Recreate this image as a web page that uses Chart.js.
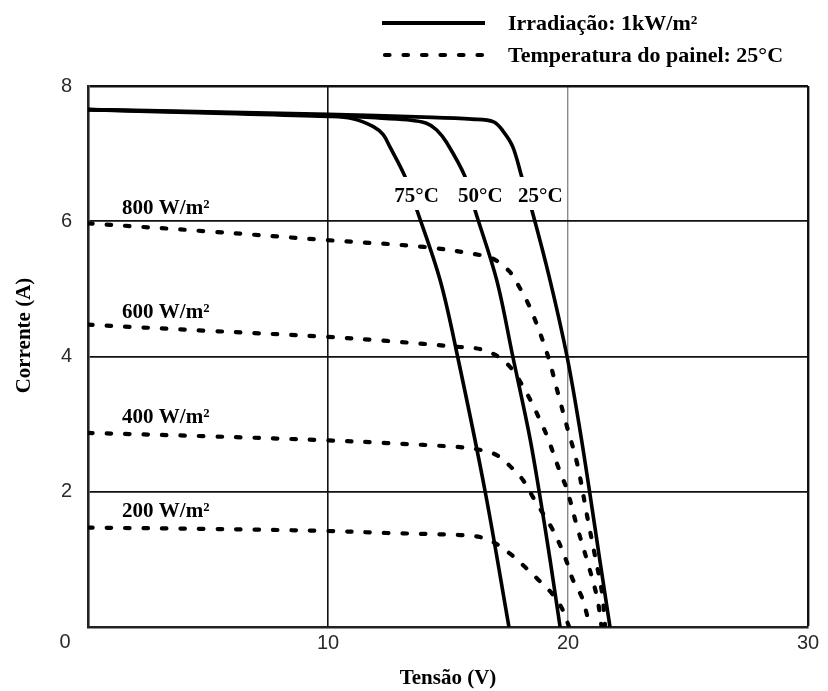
<!DOCTYPE html>
<html><head><meta charset="utf-8">
<script src="https://cdn.jsdelivr.net/npm/chart.js@4"></script>
<style>html,body{margin:0;padding:0;background:#fff}</style>
</head><body>
<canvas id="c" width="828" height="691" style="width:828px;height:691px;display:block"></canvas>
<script>
// ---- data ----
const xTickValues = [0, 10, 20, 30];
const yTickValues = [0, 2, 4, 6, 8];
const xTitle = 'Tensão (V)';
const yTitle = 'Corrente (A)';

// 1 kW/m², panel temperature 25 / 50 / 75 °C (solid)
const v_1000_25C = [0, 5, 10, 14, 16, 16.9, 17.3, 17.7, 18.07, 18.49, 19.25, 19.96, 20.5, 20.9, 21.3, 21.75];
const i_1000_25C = [7.65, 7.62, 7.58, 7.54, 7.51, 7.47, 7.33, 7.1, 6.66, 6.17, 5.13, 4.0, 2.91, 2.0, 1.05, 0];
const v_1000_50C = [0, 5, 10, 12, 13.3, 14.1, 14.53, 14.95, 15.71, 16.12, 17.03, 17.7, 18.4, 18.8, 19.25, 19.67];
const i_1000_50C = [7.65, 7.61, 7.56, 7.53, 7.5, 7.45, 7.35, 7.16, 6.66, 6.17, 5.13, 4.0, 2.82, 2.0, 1.0, 0];
const v_1000_75C = [0, 5, 10, 11.0, 11.89, 12.3, 12.58, 13.21, 13.7, 14.67, 15.4, 16.55, 17.54];
const i_1000_75C = [7.65, 7.6, 7.55, 7.52, 7.4, 7.28, 7.1, 6.66, 6.17, 5.13, 4.0, 2.0, 0];

// 25 °C, irradiance 800 / 600 / 400 / 200 W/m² (dotted)
const v_800 = [0, 5, 10, 14, 16.33, 16.96, 17.58, 18.0, 18.33, 18.63, 19.17, 19.58, 19.96, 20.38, 20.83, 21.13, 21.42, 21.55];
const i_800 = [5.97, 5.85, 5.72, 5.62, 5.50, 5.43, 5.25, 5.01, 4.79, 4.54, 4.0, 3.46, 2.96, 2.42, 1.58, 1.04, 0.5, 0];
const v_600 = [0, 5, 10, 12.46, 15.5, 16.33, 17.08, 17.7, 18.13, 18.5, 18.83, 19.13, 19.67, 19.96, 20.38, 20.79, 21.21, 21.4];
const i_600 = [4.47, 4.38, 4.29, 4.23, 4.14, 4.11, 4.0, 3.8, 3.55, 3.31, 3.06, 2.82, 2.29, 2.03, 1.48, 0.99, 0.44, 0];
const v_400 = [0, 5, 10, 12.46, 15.5, 16.33, 17.04, 17.67, 18.13, 18.54, 19.33, 19.67, 19.96, 20.2, 20.58, 20.79, 20.9];
const i_400 = [2.87, 2.82, 2.76, 2.72, 2.66, 2.62, 2.54, 2.35, 2.17, 1.92, 1.46, 1.21, 0.95, 0.7, 0.44, 0.18, 0];
const v_200 = [0, 5, 10, 12.46, 15.5, 16.33, 16.96, 17.65, 18.2, 18.76, 19.32, 19.74, 20.05];
const i_200 = [1.47, 1.45, 1.42, 1.39, 1.36, 1.33, 1.24, 1.065, 0.89, 0.70, 0.50, 0.28, 0];

const tempLabels = ['75°C', '50°C', '25°C'];
const irrLabels = ['800 W/m²', '600 W/m²', '400 W/m²', '200 W/m²'];
const legendTexts = ['Irradiação: 1kW/m²', 'Temperatura do painel: 25°C'];

// ---- annotation anchors (in data units) ----
const tempLabelV = [13.69, 16.35, 18.85], tempLabelI = 6.285;
const irrLabelV = 1.42, irrLabelI = [6.107, 4.565, 3.012, 1.622];

const pts = (v, i) => v.map((x, k) => ({x, y: i[k]}));
const DOT = [4.5, 14];
const solid = (label, v, i) => ({label, data: pts(v, i), borderColor: '#000', borderWidth: 3.6,
  pointRadius: 0, fill: false, tension: 0.35});
const dotted = (label, v, i) => ({label, data: pts(v, i), borderColor: '#000', borderWidth: 4.2,
  borderDash: DOT, borderCapStyle: 'round', pointRadius: 0, fill: false, tension: 0.35});

const SERIF = '"Liberation Serif", "Times New Roman", serif';
const SANS = '"Liberation Sans", Arial, sans-serif';

const decor = {
  id: 'decor',
  afterDatasetsDraw(chart) {
    const {ctx, scales: {x, y}} = chart;
    ctx.save();
    ctx.font = 'bold 21px ' + SERIF;
    ctx.textAlign = 'center';
    ctx.textBaseline = 'alphabetic';
    tempLabels.forEach((t, k) => {
      const px = x.getPixelForValue(tempLabelV[k]);
      const py = y.getPixelForValue(tempLabelI);
      const w = ctx.measureText(t).width;
      ctx.fillStyle = '#fff';
      ctx.fillRect(px - w / 2 - 3, py - 25, w + 6, 33);
      ctx.fillStyle = '#000';
      ctx.fillText(t, px, py);
    });
    ctx.textAlign = 'left';
    irrLabels.forEach((t, k) => {
      ctx.fillText(t, x.getPixelForValue(irrLabelV), y.getPixelForValue(irrLabelI[k]));
    });
    ctx.restore();
  },
  afterDraw(chart) {
    const {ctx, chartArea} = chart;
    ctx.save();
    ctx.strokeStyle = '#000';
    ctx.lineWidth = 4;
    ctx.beginPath(); ctx.moveTo(382, 23); ctx.lineTo(485, 23); ctx.stroke();
    ctx.setLineDash(DOT); ctx.lineCap = 'round'; ctx.lineWidth = 4.2;
    ctx.beginPath(); ctx.moveTo(385, 55); ctx.lineTo(487, 55); ctx.stroke();
    ctx.setLineDash([]);
    ctx.fillStyle = '#000';
    ctx.font = 'bold 22px ' + SERIF;
    ctx.textAlign = 'left'; ctx.textBaseline = 'alphabetic';
    ctx.fillText(legendTexts[0], 508, 30);
    ctx.fillText(legendTexts[1], 508, 62);
    ctx.font = '20px ' + SANS;
    ctx.fillStyle = '#2a2a2a';
    ctx.textAlign = 'center'; ctx.textBaseline = 'middle';
    ctx.fillText('0', chartArea.left - 23, chartArea.bottom + 15);
    ctx.restore();
  }
};

const gridColor = c => (c.tick && c.tick.value === 20 ? '#8a8a8a' : '#111');

new Chart(document.getElementById('c'), {
  type: 'line',
  data: {datasets: [
    solid('1 kW/m², 25°C', v_1000_25C, i_1000_25C),
    solid('1 kW/m², 50°C', v_1000_50C, i_1000_50C),
    solid('1 kW/m², 75°C', v_1000_75C, i_1000_75C),
    dotted('800 W/m², 25°C', v_800, i_800),
    dotted('600 W/m², 25°C', v_600, i_600),
    dotted('400 W/m², 25°C', v_400, i_400),
    dotted('200 W/m², 25°C', v_200, i_200)
  ]},
  options: {
    responsive: false, animation: false,
    layout: {padding: {top: 86, right: 20, left: 0, bottom: 0}},
    plugins: {legend: {display: false}, tooltip: {enabled: false}},
    scales: {
      x: {
        type: 'linear', min: 0, max: 30,
        afterBuildTicks: s => { s.ticks = xTickValues.map(value => ({value})); },
        afterFit: s => { s.height = 64; },
        ticks: {padding: 4, color: '#2a2a2a', font: {family: SANS, size: 20},
          callback: v => (v === 0 ? '' : v)},
        grid: {drawTicks: false, color: gridColor,
          lineWidth: c => (c.tick && c.tick.value === 30 ? 2.4 : c.tick && c.tick.value === 20 ? 1.4 : 1.6)},
        border: {color: '#222', width: 2.6},
        title: {display: true, text: xTitle, color: '#000', padding: {top: 0, bottom: 0},
          font: {family: SERIF, size: 21, weight: 'bold'}}
      },
      y: {
        type: 'linear', min: 0, max: 8,
        afterBuildTicks: s => { s.ticks = yTickValues.map(value => ({value})); },
        afterFit: s => { s.width = 88; },
        ticks: {padding: 16, color: '#2a2a2a', font: {family: SANS, size: 20},
          callback: v => (v === 0 ? '' : v)},
        grid: {drawTicks: false, color: '#111',
          lineWidth: c => (c.tick && c.tick.value === 8 ? 2.4 : 1.8)},
        border: {color: '#222', width: 2.6},
        title: {display: true, text: '\u2002\u2002\u2002\u2002' + yTitle, color: '#000', padding: {top: 12, bottom: 0},
          font: {family: SERIF, size: 21, weight: 'bold'}}
      }
    }
  },
  plugins: [decor]
});
</script>
</body></html>
